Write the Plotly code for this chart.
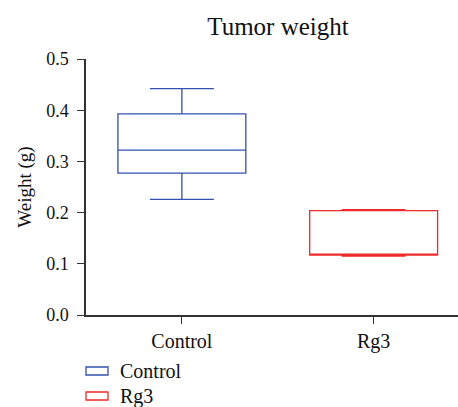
import plotly.graph_objects as go

groups = ["Control", "Rg3"]
lower_whisker = [0.226, 0.115]
q1 = [0.277, 0.117]
median = [0.322, 0.119]
q3 = [0.393, 0.204]
upper_whisker = [0.442, 0.206]
colors = ["#3350AE", "#EE2A2A"]

font = "Liberation Serif"
W, H = 458, 407
L, R, T, B = 86, 0, 59, 92
pw, ph = W - L - R, H - T - B

fig = go.Figure()
for i, g in enumerate(groups):
    fig.add_trace(go.Box(
        name=g, x=[g],
        q1=[q1[i]], median=[median[i]], q3=[q3[i]],
        lowerfence=[lower_whisker[i]], upperfence=[upper_whisker[i]],
        line=dict(color=colors[i], width=1.3),
        fillcolor="rgba(0,0,0,0)",
        whiskerwidth=0.5, width=0.667,
        boxpoints=False, showlegend=False,
    ))

# custom legend (rectangles + labels) in paper coordinates
for i, g in enumerate(groups):
    top = 367 + 25 * i
    fig.add_shape(type="rect", xref="paper", yref="paper",
                  x0=0, x1=22 / pw,
                  y0=(T + ph - top) / ph, y1=(T + ph - top - 8) / ph,
                  line=dict(color=colors[i], width=1.3), fillcolor="white")
    fig.add_annotation(text=g, xref="paper", yref="paper",
                       x=32 / pw, y=(T + ph - top - 4) / ph,
                       xanchor="left", yanchor="middle", showarrow=False,
                       font=dict(size=20, family=font, color="#111"))

fig.update_layout(
    width=W, height=H,
    margin=dict(l=L, r=R, t=T, b=B, autoexpand=False),
    paper_bgcolor="white", plot_bgcolor="white",
    font=dict(family=font, size=18, color="#111"),
    title=dict(text="Tumor weight", x=278 / W, xanchor="center", y=1 - 26 / H,
               yanchor="middle", font=dict(size=25, family=font, color="#111")),
    showlegend=False,
    boxmode="overlay",
)
fig.update_xaxes(
    type="category", range=[-0.5, 1.44], showline=True, linecolor="#333",
    linewidth=1.5, ticks="outside", ticklen=7, tickcolor="#333",
    showgrid=False, zeroline=False,
    tickfont=dict(size=20, family=font, color="#111"),
    automargin=False,
)
fig.update_yaxes(
    range=[0, 0.5], dtick=0.1, tickformat=".1f", showline=True,
    linecolor="#333", linewidth=1.5, ticks="outside", ticklen=7,
    tickcolor="#333", showgrid=False, zeroline=False,
    title=dict(text="Weight (g)", font=dict(size=19, family=font, color="#111"), standoff=10),
    tickfont=dict(size=18, family=font, color="#111"),
    ticklabelstandoff=5,
    automargin=False,
)
fig.write_html("out.html", config={"displayModeBar": False},
               post_script="document.body.style.margin='0';")
